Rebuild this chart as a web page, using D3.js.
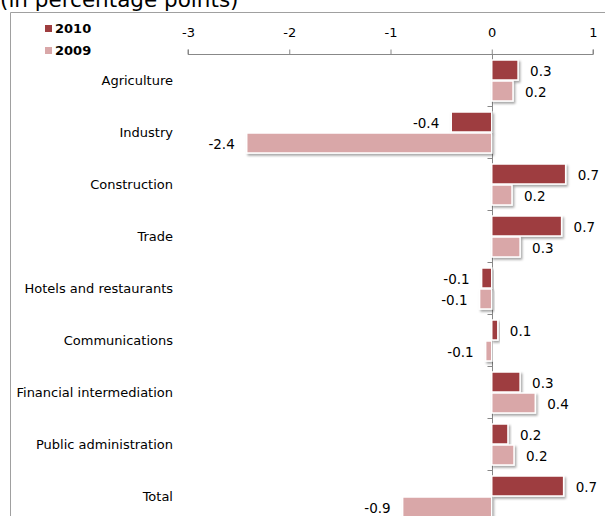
<!DOCTYPE html>
<html>
<head>
<meta charset="utf-8">
<script src="https://cdn.jsdelivr.net/npm/d3@7"></script>
<style>
  html, body { margin: 0; padding: 0; background: #fff; }
  svg { display: block; }
  text { font-family: "DejaVu Sans", Verdana, sans-serif; fill: #000; }
</style>
</head>
<body>
<svg id="chart" width="605" height="516"></svg>
<script>
// Contributions to growth by sector, 2010 vs 2009 (percentage points)
const categories = ["Agriculture", "Industry", "Construction", "Trade", "Hotels and restaurants",
                    "Communications", "Financial intermediation", "Public administration", "Total"];
const values2010 = [0.26, -0.40, 0.73, 0.69, -0.10, 0.06, 0.28, 0.16, 0.71];
const values2009 = [0.21, -2.42, 0.20, 0.28, -0.12, -0.06, 0.43, 0.22, -0.88];
const seriesNames = ["2010", "2009"];
const tickValues = [-3, -2, -1, 0, 1];

const colors = { "2010": "#9e3d3f", "2009": "#d9a7a8" };

const svg = d3.select("#chart");
const defs = svg.append("defs");
const f = defs.append("filter").attr("id", "shadow")
  .attr("x", "-20%").attr("y", "-40%").attr("width", "140%").attr("height", "180%");
f.append("feDropShadow").attr("dx", 1.5).attr("dy", 2).attr("stdDeviation", 1.2)
  .attr("flood-color", "#000").attr("flood-opacity", 0.35);

// Title (sits partly above the visible area)
svg.append("text").attr("x", 0).attr("y", 7)
  .attr("font-size", 21.5).text("(in percentage points)");

// Chart frame
svg.append("path")
  .attr("d", "M10.5,516 V12.5 H605")
  .attr("fill", "none").attr("stroke", "#a0a0a0").attr("stroke-width", 1);

const x = d3.scaleLinear().domain([-3, 1]).range([188, 593]);
const y = d3.scaleBand().domain(categories).range([54, 522]);

// Top value axis
const xAxis = d3.axisTop(x).tickValues(tickValues).tickSize(5).tickPadding(13)
  .tickFormat(d => String(d));
const gx = svg.append("g").attr("transform", "translate(0,54.5)").call(xAxis);
gx.selectAll("path,line").attr("stroke", "#888");
gx.select(".domain").attr("d", `M${x(-3)},-5V0H${x(1)}V-5`);
gx.selectAll("text").attr("font-size", 13).attr("font-family", null);

// Zero line with category ticks
const zero = Math.round(x(0)) + 0.5;
svg.append("line").attr("x1", zero).attr("x2", zero).attr("y1", 54).attr("y2", 516)
  .attr("stroke", "#888");
svg.selectAll(".ctick").data(categories.slice(1)).enter().append("line")
  .attr("x1", zero - 5).attr("x2", zero)
  .attr("y1", d => Math.round(y(d)) + 0.5).attr("y2", d => Math.round(y(d)) + 0.5)
  .attr("stroke", "#888");

// Category labels
svg.selectAll(".cat").data(categories).enter().append("text")
  .attr("x", 173).attr("y", d => y(d) + y.bandwidth() / 2 + 1)
  .attr("text-anchor", "end").attr("dominant-baseline", "middle")
  .attr("font-size", 13).text(d => d);

// Bars
const rows = [];
categories.forEach((c, i) => {
  rows.push({ cat: c, series: "2010", v: values2010[i], off: 6 });
  rows.push({ cat: c, series: "2009", v: values2009[i], off: 27 });
});
const barH = 20;
svg.append("g").selectAll("rect").data(rows).enter().append("rect")
  .attr("x", d => x(Math.min(0, d.v)))
  .attr("width", d => Math.abs(x(d.v) - x(0)))
  .attr("y", d => y(d.cat) + d.off)
  .attr("height", barH)
  .attr("fill", d => colors[d.series])
  .attr("stroke", "#fff").attr("stroke-width", 1.5)
  .attr("filter", "url(#shadow)");

// Value labels
svg.append("g").selectAll("text").data(rows).enter().append("text")
  .attr("x", d => d.v >= 0 ? x(d.v) + 12 : x(d.v) - 12)
  .attr("y", d => y(d.cat) + d.off + barH / 2 + 2)
  .attr("text-anchor", d => d.v >= 0 ? "start" : "end")
  .attr("dominant-baseline", "middle")
  .attr("font-size", 13.5)
  .text(d => d.v.toFixed(1));

// Legend
const lg = svg.append("g");
seriesNames.forEach((s, i) => {
  const ly = 29 + i * 22;
  lg.append("rect").attr("x", 45).attr("y", ly - 4).attr("width", 7).attr("height", 7)
    .attr("fill", colors[s]);
  lg.append("text").attr("x", 55).attr("y", ly).attr("dominant-baseline", "middle")
    .attr("font-size", 13).attr("font-weight", "bold").text(s);
});
</script>
</body>
</html>
